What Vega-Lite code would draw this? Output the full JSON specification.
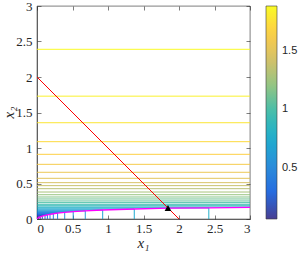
{
 "$schema": "https://vega.github.io/schema/vega-lite/v6.json",
 "width": 213, "height": 213,
 "autosize": {"type": "none"},
 "padding": {"left": 37, "top": 6, "right": 50, "bottom": 40},
 "background": "white",
 "config": {
  "view": {"stroke": "#262626", "strokeWidth": 0.6},
  "axis": {"domainColor": "#262626", "domainWidth": 0.6, "tickColor": "#262626", "tickWidth": 0.6, "labelColor": "#262626", "titleColor": "#262626", "labelFont": "Liberation Serif", "labelFontSize": 13, "titleFont": "Liberation Serif", "titleFontStyle": "italic", "titleFontWeight": "normal", "titleFontSize": 15, "grid": false}
 },
 "datasets": {
  "contours": [
   {"lev": 1, "L": 1.88, "x1": 0, "x2": 2.39, "ord": 1}, {"lev": 1, "L": 1.88, "x1": 3, "x2": 2.39, "ord": 2},
   {"lev": 2, "L": 1.825, "x1": 0, "x2": 1.73, "ord": 1}, {"lev": 2, "L": 1.825, "x1": 3, "x2": 1.73, "ord": 2},
   {"lev": 3, "L": 1.77, "x1": 0, "x2": 1.356, "ord": 1}, {"lev": 3, "L": 1.77, "x1": 3, "x2": 1.356, "ord": 2},
   {"lev": 4, "L": 1.715, "x1": 0, "x2": 1.089, "ord": 1}, {"lev": 4, "L": 1.715, "x1": 3, "x2": 1.089, "ord": 2},
   {"lev": 5, "L": 1.66, "x1": 0, "x2": 0.911, "ord": 1}, {"lev": 5, "L": 1.66, "x1": 3, "x2": 0.911, "ord": 2},
   {"lev": 6, "L": 1.605, "x1": 0, "x2": 0.77, "ord": 1}, {"lev": 6, "L": 1.605, "x1": 3, "x2": 0.77, "ord": 2},
   {"lev": 7, "L": 1.55, "x1": 0, "x2": 0.658, "ord": 1}, {"lev": 7, "L": 1.55, "x1": 3, "x2": 0.658, "ord": 2},
   {"lev": 8, "L": 1.495, "x1": 0, "x2": 0.573, "ord": 1}, {"lev": 8, "L": 1.495, "x1": 3, "x2": 0.573, "ord": 2},
   {"lev": 9, "L": 1.44, "x1": 0, "x2": 0.512, "ord": 1}, {"lev": 9, "L": 1.44, "x1": 3, "x2": 0.512, "ord": 2},
   {"lev": 10, "L": 1.385, "x1": 0, "x2": 0.47, "ord": 1}, {"lev": 10, "L": 1.385, "x1": 3, "x2": 0.47, "ord": 2},
   {"lev": 11, "L": 1.33, "x1": 0, "x2": 0.427, "ord": 1}, {"lev": 11, "L": 1.33, "x1": 3, "x2": 0.427, "ord": 2},
   {"lev": 12, "L": 1.275, "x1": 0, "x2": 0.38, "ord": 1}, {"lev": 12, "L": 1.275, "x1": 3, "x2": 0.38, "ord": 2},
   {"lev": 13, "L": 1.22, "x1": 0, "x2": 0.342, "ord": 1}, {"lev": 13, "L": 1.22, "x1": 3, "x2": 0.342, "ord": 2},
   {"lev": 14, "L": 1.165, "x1": 0, "x2": 0.31, "ord": 1}, {"lev": 14, "L": 1.165, "x1": 3, "x2": 0.31, "ord": 2},
   {"lev": 15, "L": 1.11, "x1": 0, "x2": 0.282, "ord": 1}, {"lev": 15, "L": 1.11, "x1": 3, "x2": 0.282, "ord": 2},
   {"lev": 16, "L": 1.055, "x1": 0, "x2": 0.254, "ord": 1}, {"lev": 16, "L": 1.055, "x1": 3, "x2": 0.254, "ord": 2},
   {"lev": 17, "L": 1.0, "x1": 0, "x2": 0.23, "ord": 1}, {"lev": 17, "L": 1.0, "x1": 3, "x2": 0.23, "ord": 2},
   {"lev": 18, "L": 0.945, "x1": 0, "x2": 0.207, "ord": 1}, {"lev": 18, "L": 0.945, "x1": 3, "x2": 0.207, "ord": 2},
   {"lev": 19, "L": 0.89, "x1": 0, "x2": 0.187, "ord": 1}, {"lev": 19, "L": 0.89, "x1": 3, "x2": 0.187, "ord": 2},
   {"lev": 20, "L": 0.835, "x1": 0, "x2": 0.169, "ord": 1}, {"lev": 20, "L": 0.835, "x1": 3, "x2": 0.169, "ord": 2},
   {"lev": 21, "L": 0.78, "x1": 0, "x2": 0.156, "ord": 1}, {"lev": 21, "L": 0.78, "x1": 2.42, "x2": 0.156, "ord": 2}, {"lev": 21, "L": 0.78, "x1": 2.42, "x2": 0, "ord": 3},
   {"lev": 22, "L": 0.725, "x1": 0, "x2": 0.141, "ord": 1}, {"lev": 22, "L": 0.725, "x1": 1.37, "x2": 0.141, "ord": 2}, {"lev": 22, "L": 0.725, "x1": 1.37, "x2": 0, "ord": 3},
   {"lev": 23, "L": 0.67, "x1": 0, "x2": 0.127, "ord": 1}, {"lev": 23, "L": 0.67, "x1": 0.925, "x2": 0.127, "ord": 2}, {"lev": 23, "L": 0.67, "x1": 0.925, "x2": 0, "ord": 3},
   {"lev": 24, "L": 0.615, "x1": 0, "x2": 0.115, "ord": 1}, {"lev": 24, "L": 0.615, "x1": 0.68, "x2": 0.115, "ord": 2}, {"lev": 24, "L": 0.615, "x1": 0.68, "x2": 0, "ord": 3},
   {"lev": 25, "L": 0.56, "x1": 0, "x2": 0.103, "ord": 1}, {"lev": 25, "L": 0.56, "x1": 0.51, "x2": 0.103, "ord": 2}, {"lev": 25, "L": 0.56, "x1": 0.51, "x2": 0, "ord": 3},
   {"lev": 26, "L": 0.505, "x1": 0, "x2": 0.093, "ord": 1}, {"lev": 26, "L": 0.505, "x1": 0.39, "x2": 0.093, "ord": 2}, {"lev": 26, "L": 0.505, "x1": 0.39, "x2": 0, "ord": 3},
   {"lev": 27, "L": 0.45, "x1": 0, "x2": 0.083, "ord": 1}, {"lev": 27, "L": 0.45, "x1": 0.29, "x2": 0.083, "ord": 2}, {"lev": 27, "L": 0.45, "x1": 0.29, "x2": 0, "ord": 3},
   {"lev": 28, "L": 0.395, "x1": 0, "x2": 0.074, "ord": 1}, {"lev": 28, "L": 0.395, "x1": 0.23, "x2": 0.074, "ord": 2}, {"lev": 28, "L": 0.395, "x1": 0.23, "x2": 0, "ord": 3},
   {"lev": 29, "L": 0.34, "x1": 0, "x2": 0.066, "ord": 1}, {"lev": 29, "L": 0.34, "x1": 0.183, "x2": 0.066, "ord": 2}, {"lev": 29, "L": 0.34, "x1": 0.183, "x2": 0, "ord": 3},
   {"lev": 30, "L": 0.285, "x1": 0, "x2": 0.058, "ord": 1}, {"lev": 30, "L": 0.285, "x1": 0.146, "x2": 0.058, "ord": 2}, {"lev": 30, "L": 0.285, "x1": 0.146, "x2": 0, "ord": 3},
   {"lev": 31, "L": 0.23, "x1": 0, "x2": 0.05, "ord": 1}, {"lev": 31, "L": 0.23, "x1": 0.113, "x2": 0.05, "ord": 2}, {"lev": 31, "L": 0.23, "x1": 0.113, "x2": 0, "ord": 3},
   {"lev": 32, "L": 0.175, "x1": 0, "x2": 0.04, "ord": 1}, {"lev": 32, "L": 0.175, "x1": 0.075, "x2": 0.04, "ord": 2}, {"lev": 32, "L": 0.175, "x1": 0.075, "x2": 0, "ord": 3},
   {"lev": 33, "L": 0.12, "x1": 0, "x2": 0.03, "ord": 1}, {"lev": 33, "L": 0.12, "x1": 0.045, "x2": 0.03, "ord": 2}, {"lev": 33, "L": 0.12, "x1": 0.045, "x2": 0, "ord": 3},
   {"lev": 34, "L": 0.065, "x1": 0, "x2": 0.02, "ord": 1}, {"lev": 34, "L": 0.065, "x1": 0.022, "x2": 0.02, "ord": 2}, {"lev": 34, "L": 0.065, "x1": 0.022, "x2": 0, "ord": 3}
  ],
  "curve": [
   {"x1": 0, "x2": 0}, {"x1": 0.022, "x2": 0.02}, {"x1": 0.045, "x2": 0.03}, {"x1": 0.075, "x2": 0.04},
   {"x1": 0.113, "x2": 0.05}, {"x1": 0.146, "x2": 0.058}, {"x1": 0.183, "x2": 0.066}, {"x1": 0.23, "x2": 0.074},
   {"x1": 0.29, "x2": 0.083}, {"x1": 0.39, "x2": 0.093}, {"x1": 0.51, "x2": 0.103}, {"x1": 0.68, "x2": 0.115},
   {"x1": 0.925, "x2": 0.127}, {"x1": 1.37, "x2": 0.141}, {"x1": 1.845, "x2": 0.152}, {"x1": 2.42, "x2": 0.158},
   {"x1": 3, "x2": 0.163}
  ],
  "redline": [{"x1": 0, "x2": 2}, {"x1": 2, "x2": 0}],
  "opt": [{"x1": 1.845, "x2": 0.155}]
 },
 "layer": [
  {
   "data": {"name": "contours"},
   "mark": {"type": "line", "strokeWidth": 1, "opacity": 0.9, "clip": true},
   "encoding": {
    "x": {"field": "x1", "type": "quantitative", "scale": {"domain": [0, 3], "nice": false, "zero": false},
          "axis": {"orient": "bottom", "values": [0, 0.5, 1, 1.5, 2, 2.5, 3], "format": "~g", "tickSize": -4, "labelPadding": 7, "title": "x₁", "titleX": 106, "titleY": 28, "titleBaseline": "alphabetic", "titleAnchor": "middle"}},
    "y": {"field": "x2", "type": "quantitative", "scale": {"domain": [0, 3], "nice": false, "zero": false},
          "axis": {"orient": "left", "values": [0, 0.5, 1, 1.5, 2, 2.5, 3], "format": "~g", "tickSize": -4, "labelPadding": 9, "title": "x₂", "titleX": -24, "titleY": 106, "titleAngle": -90, "titleBaseline": "alphabetic", "titleAnchor": "middle"}},
    "color": {"field": "L", "type": "quantitative",
              "scale": {"domain": [0.065, 1.88], "range": ["#352a87", "#0f5cdd", "#1481d6", "#06a4ca", "#2eb7a4", "#87bf77", "#d1bb59", "#fec832", "#f9fb0e"], "interpolate": "rgb"},
              "legend": {"orient": "none", "legendX": 229, "legendY": 0, "direction": "vertical", "title": null, "gradientLength": 213, "gradientThickness": 11, "gradientStrokeColor": "#262626", "gradientStrokeWidth": 0.6, "values": [0.5, 1, 1.5], "format": "~g", "labelFont": "Liberation Sans", "labelFontSize": 11, "labelColor": "#262626", "labelOffset": 5}},
    "detail": {"field": "lev", "type": "nominal"},
    "order": {"field": "ord", "type": "quantitative"}
   }
  },
  {
   "data": {"name": "curve"},
   "mark": {"type": "line", "color": "#ff00ff", "strokeWidth": 1.3, "clip": true},
   "encoding": {
    "x": {"field": "x1", "type": "quantitative", "scale": {"domain": [0, 3], "nice": false, "zero": false}, "axis": null},
    "y": {"field": "x2", "type": "quantitative", "scale": {"domain": [0, 3], "nice": false, "zero": false}, "axis": null}
   }
  },
  {
   "data": {"name": "redline"},
   "mark": {"type": "line", "color": "#ff0000", "strokeWidth": 1, "clip": true},
   "encoding": {
    "x": {"field": "x1", "type": "quantitative", "scale": {"domain": [0, 3], "nice": false, "zero": false}, "axis": null},
    "y": {"field": "x2", "type": "quantitative", "scale": {"domain": [0, 3], "nice": false, "zero": false}, "axis": null}
   }
  },
  {
   "data": {"name": "opt"},
   "mark": {"type": "point", "shape": "triangle-up", "filled": true, "color": "black", "size": 45, "opacity": 1},
   "encoding": {
    "x": {"field": "x1", "type": "quantitative", "scale": {"domain": [0, 3], "nice": false, "zero": false}, "axis": null},
    "y": {"field": "x2", "type": "quantitative", "scale": {"domain": [0, 3], "nice": false, "zero": false}, "axis": null}
   }
  },
  {
   "data": {"name": "opt"},
   "mark": {"type": "point", "opacity": 0},
   "encoding": {
    "x": {"field": "x1", "type": "quantitative", "scale": {"domain": [0, 3], "nice": false, "zero": false},
          "axis": {"orient": "top", "values": [0, 0.5, 1, 1.5, 2, 2.5, 3], "labels": false, "title": null, "tickSize": -4, "domain": false}},
    "y": {"field": "x2", "type": "quantitative", "scale": {"domain": [0, 3], "nice": false, "zero": false},
          "axis": {"orient": "right", "values": [0, 0.5, 1, 1.5, 2, 2.5, 3], "labels": false, "title": null, "tickSize": -4, "domain": false}}
   }
  }
 ],
 "resolve": {"axis": {"x": "independent", "y": "independent"}}
}
